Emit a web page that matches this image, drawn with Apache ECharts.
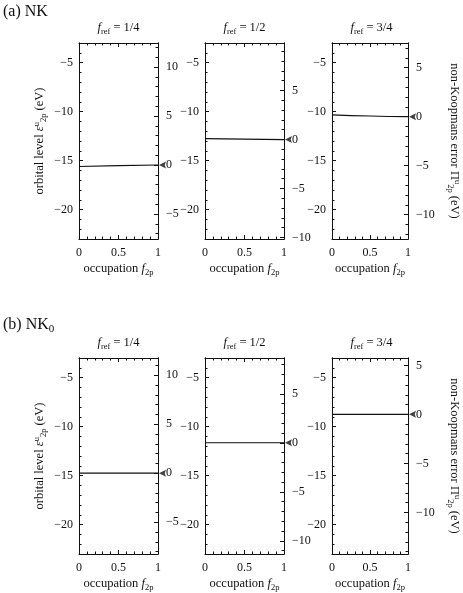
<!DOCTYPE html>
<html><head><meta charset="utf-8">
<script src="https://cdn.jsdelivr.net/npm/echarts@6/dist/echarts.min.js"></script>
<style>html,body{margin:0;padding:0;background:#fff}#c{width:463px;height:593px}</style>
</head><body><div id="c"></div>
<script>
// ---- data ----
const occupation = [0, 0.5, 1];
const frefLabels = ['1/4', '1/2', '3/4'];
const nkQuarter = [-15.6, -15.52, -15.45];
const nkHalf = [-12.75, -12.8, -12.85];
const nkThreeQuarter = [-10.33, -10.45, -10.52];
const nk0Quarter = [-14.75, -14.75, -14.75];
const nk0Half = [-11.65, -11.65, -11.65];
const nk0ThreeQuarter = [-8.75, -8.75, -8.75];
const levelMin = -23, levelMax = -3;
const xTickValues = [0, 0.5, 1];

const rows = [[nkQuarter, nkHalf, nkThreeQuarter], [nk0Quarter, nk0Half, nk0ThreeQuarter]];

// ---- layout ----
const FONT = 'Liberation Serif';
const panelLeft = [79, 205, 332];
const panelWidth = 79;
const rowTop = [43, 358];
const panelHeight = 196;
const INK = '#111';

const rich = {
  i: {fontStyle: 'italic', fontFamily: FONT, fontSize: 12.5, lineHeight: 16, color: INK},
  sub: {fontFamily: FONT, fontSize: 8.5, lineHeight: 8, verticalAlign: 'bottom', color: INK},
  sup: {fontFamily: FONT, fontSize: 8.5, lineHeight: 8, verticalAlign: 'top', color: INK},
  big: {fontFamily: FONT, fontSize: 16, lineHeight: 20, color: INK},
  bigsub: {fontFamily: FONT, fontSize: 11, lineHeight: 12, verticalAlign: 'bottom', color: INK}
};

function fmt(v) { return (v < 0 ? '\u2212' : '') + Math.abs(v); }
function range(a, b, step) { const out = []; for (let v = Math.ceil(a / step) * step; v <= b + 1e-9; v += step) out.push(Math.round(v * 1000) / 1000); return out; }

const grids = [], xAxes = [], yAxes = [], series = [], graphics = [];

graphics.push({type: 'text', x: 3, y: 12, style: {text: '(a) NK', fontFamily: FONT, fontSize: 16, fill: INK, align: 'left', verticalAlign: 'middle'}});
graphics.push({type: 'text', x: 3, y: 325, style: {text: '{big|(b) NK}{bigsub|0}', rich: rich, fontFamily: FONT, fontSize: 16, fill: INK, align: 'left', verticalAlign: 'middle'}});

let gi = 0;
rows.forEach((rowData, r) => {
  rowData.forEach((levels, c) => {
    const offset = -levels[levels.length - 1];
    grids.push({left: panelLeft[c], top: rowTop[r], width: panelWidth, height: panelHeight});
    const axisLine = {show: true, onZero: false, lineStyle: {color: INK, width: 1}};
    const labelStyle = {fontFamily: FONT, fontSize: 12, color: INK};
    xAxes.push({
      type: 'value', gridIndex: gi, min: 0, max: 1, interval: 0.5, position: 'bottom',
      axisLine, splitLine: {show: false},
      axisTick: {inside: true, length: 4, lineStyle: {color: INK}},
      minorTick: {show: true, splitNumber: 5, length: 2.5, lineStyle: {color: INK}},
      axisLabel: Object.assign({margin: 8, formatter: v => String(v)}, labelStyle),
      name: 'occupation {i|f}{sub|2p}', nameLocation: 'middle', nameGap: 22,
      nameTextStyle: {fontFamily: FONT, fontSize: 12.5, color: INK, lineHeight: 16, rich}
    });
    xAxes.push({
      type: 'value', gridIndex: gi, min: 0, max: 1, interval: 0.5, position: 'top',
      axisLine, splitLine: {show: false},
      axisTick: {inside: true, length: 4, lineStyle: {color: INK}},
      minorTick: {show: true, splitNumber: 5, length: 2.5, lineStyle: {color: INK}},
      axisLabel: {show: false}
    });
    const lMaj = range(levelMin, levelMax, 5), lMin = range(levelMin, levelMax, 1);
    const rMinV = levelMin + offset, rMaxV = levelMax + offset;
    const rMaj = range(rMinV, rMaxV, 5), rMin = range(rMinV, rMaxV, 1);
    const leftMajor = {
      type: 'value', gridIndex: gi, min: levelMin, max: levelMax, position: 'left',
      axisLine, splitLine: {show: false},
      axisTick: {inside: true, length: 4, customValues: lMaj, lineStyle: {color: INK}},
      axisLabel: Object.assign({margin: 6, customValues: lMaj, formatter: fmt}, labelStyle)
    };
    if (c === 0) {
      Object.assign(leftMajor, {
        name: 'orbital level {i|\u03b5}{sup|u}{sub|2p} (eV)', nameLocation: 'middle', nameGap: 31, nameRotate: 90,
        nameTextStyle: {fontFamily: FONT, fontSize: 12.5, color: INK, lineHeight: 16, rich}
      });
    }
    yAxes.push(leftMajor);
    yAxes.push({
      type: 'value', gridIndex: gi, min: levelMin, max: levelMax, position: 'left',
      axisLine, splitLine: {show: false},
      axisTick: {inside: true, length: 2.5, customValues: lMin, lineStyle: {color: INK}},
      axisLabel: {show: false}
    });
    const rightMajor = {
      type: 'value', gridIndex: gi, min: rMinV, max: rMaxV, position: 'right',
      axisLine, splitLine: {show: false},
      axisTick: {inside: true, length: 4, customValues: rMaj, lineStyle: {color: INK}},
      axisLabel: Object.assign({margin: 8, customValues: rMaj, formatter: fmt}, labelStyle)
    };
    if (c === 2) {
      Object.assign(rightMajor, {
        name: 'non-Koopmans error \u03a0{sup|u}{sub|2p} (eV)', nameLocation: 'middle', nameGap: 38, nameRotate: -90,
        nameTextStyle: {fontFamily: FONT, fontSize: 12.5, color: INK, lineHeight: 16, rich}
      });
    }
    yAxes.push(rightMajor);
    yAxes.push({
      type: 'value', gridIndex: gi, min: rMinV, max: rMaxV, position: 'right',
      axisLine, splitLine: {show: false},
      axisTick: {inside: true, length: 2.5, customValues: rMin, lineStyle: {color: INK}},
      axisLabel: {show: false}
    });
    series.push({
      type: 'line', xAxisIndex: 2 * gi, yAxisIndex: 4 * gi, smooth: true, showSymbol: false,
      lineStyle: {color: INK, width: 1.2}, data: occupation.map((f, k) => [f, levels[k]]), silent: true
    });
    series.push({
      type: 'scatter', xAxisIndex: 2 * gi, yAxisIndex: 4 * gi + 2, clip: false,
      symbol: 'path://M0,4 L8,0 L6.5,4 L8,8 Z', symbolSize: [7, 7], symbolOffset: [4.5, 0],
      itemStyle: {color: INK}, data: [[1, 0]], silent: true, z: 5
    });
    graphics.push({type: 'text', x: panelLeft[c] + panelWidth / 2, y: rowTop[r] - 15,
      style: {text: '{i|f}{sub|ref} = ' + frefLabels[c], rich, fontFamily: FONT, fontSize: 12.5, fill: INK, align: 'center', verticalAlign: 'middle'}});
    gi++;
  });
});

const chart = echarts.init(document.getElementById('c'), null, {renderer: 'canvas'});
chart.setOption({
  animation: false, backgroundColor: '#fff',
  grid: grids, xAxis: xAxes, yAxis: yAxes, series, graphic: graphics
});
</script></body></html>
